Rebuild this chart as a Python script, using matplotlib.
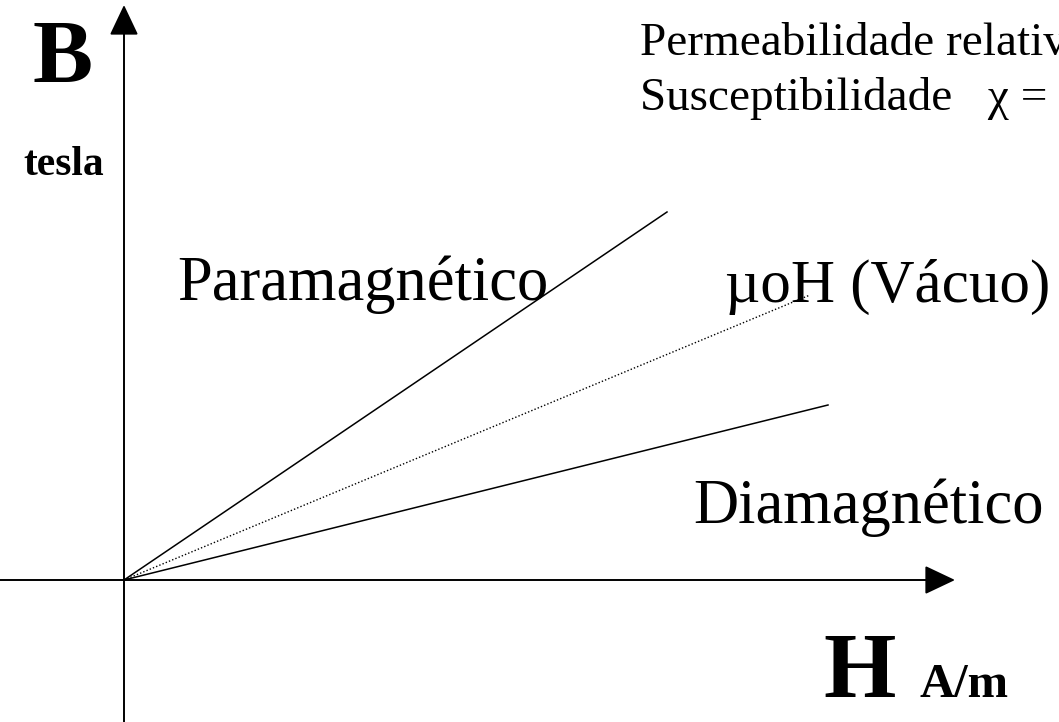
import matplotlib
matplotlib.use("Agg")
import matplotlib.pyplot as plt

# curvas B x H (origem = 0,0; unidades arbitrarias)
H_para = [0, 543]
B_para = [0, 368]
H_vac = [0, 686]
B_vac = [0, 285]
H_dia = [0, 704]
B_dia = [0, 175]

lbl_para = "Paramagnético"
lbl_vac = "\u00b5oH (Vácuo)"
lbl_dia = "Diamagnético"
txt_perm = "Permeabilidade relativa  \u00b5r = \u00b5/\u00b5o"
txt_susc = "Susceptibilidade   \u03c7 = M/H"

plt.rcParams['font.family'] = ['Liberation Serif', 'DejaVu Serif']

fig = plt.figure(figsize=(10.59, 7.22), dpi=100)
ax = fig.add_axes([0, 0, 1, 1])
ax.set_xlim(-124, 935)
ax.set_ylim(-142, 580)
ax.axis('off')

# eixos com seta
seta = dict(arrowstyle='-|>,head_length=19,head_width=9', mutation_scale=1,
            color='black', lw=1.4, shrinkA=0, shrinkB=0)
ax.annotate('', xy=(831, 0), xytext=(-124, 0), arrowprops=seta)
ax.annotate('', xy=(0, 575), xytext=(0, -142), arrowprops=seta)

ax.plot(H_para, B_para, color='black', lw=1.1)
ax.plot(H_vac, B_vac, color='black', lw=1.0, linestyle=(0, (1, 1.5)))
ax.plot(H_dia, B_dia, color='black', lw=1.1)

ax.text(-91, 497, "B", fontsize=65, fontweight='bold', va='baseline')
ax.text(-101, 405, "tesla", fontsize=30, fontweight='bold', va='baseline')
ax.text(53, 280, lbl_para, fontsize=45, va='baseline')
ax.text(601, 278, lbl_vac, fontsize=44, va='baseline')
ax.text(569, 57, lbl_dia, fontsize=45, va='baseline')
ax.text(516, 525, txt_perm, fontsize=34, va='baseline')
ax.text(516, 470, txt_susc, fontsize=34, va='baseline')
ax.text(699, -117, "H", fontsize=67, fontweight='bold', va='baseline')
ax.text(796, -117, "A/m", fontsize=35, fontweight='bold', va='baseline')

fig.savefig("out.png", dpi=100)
